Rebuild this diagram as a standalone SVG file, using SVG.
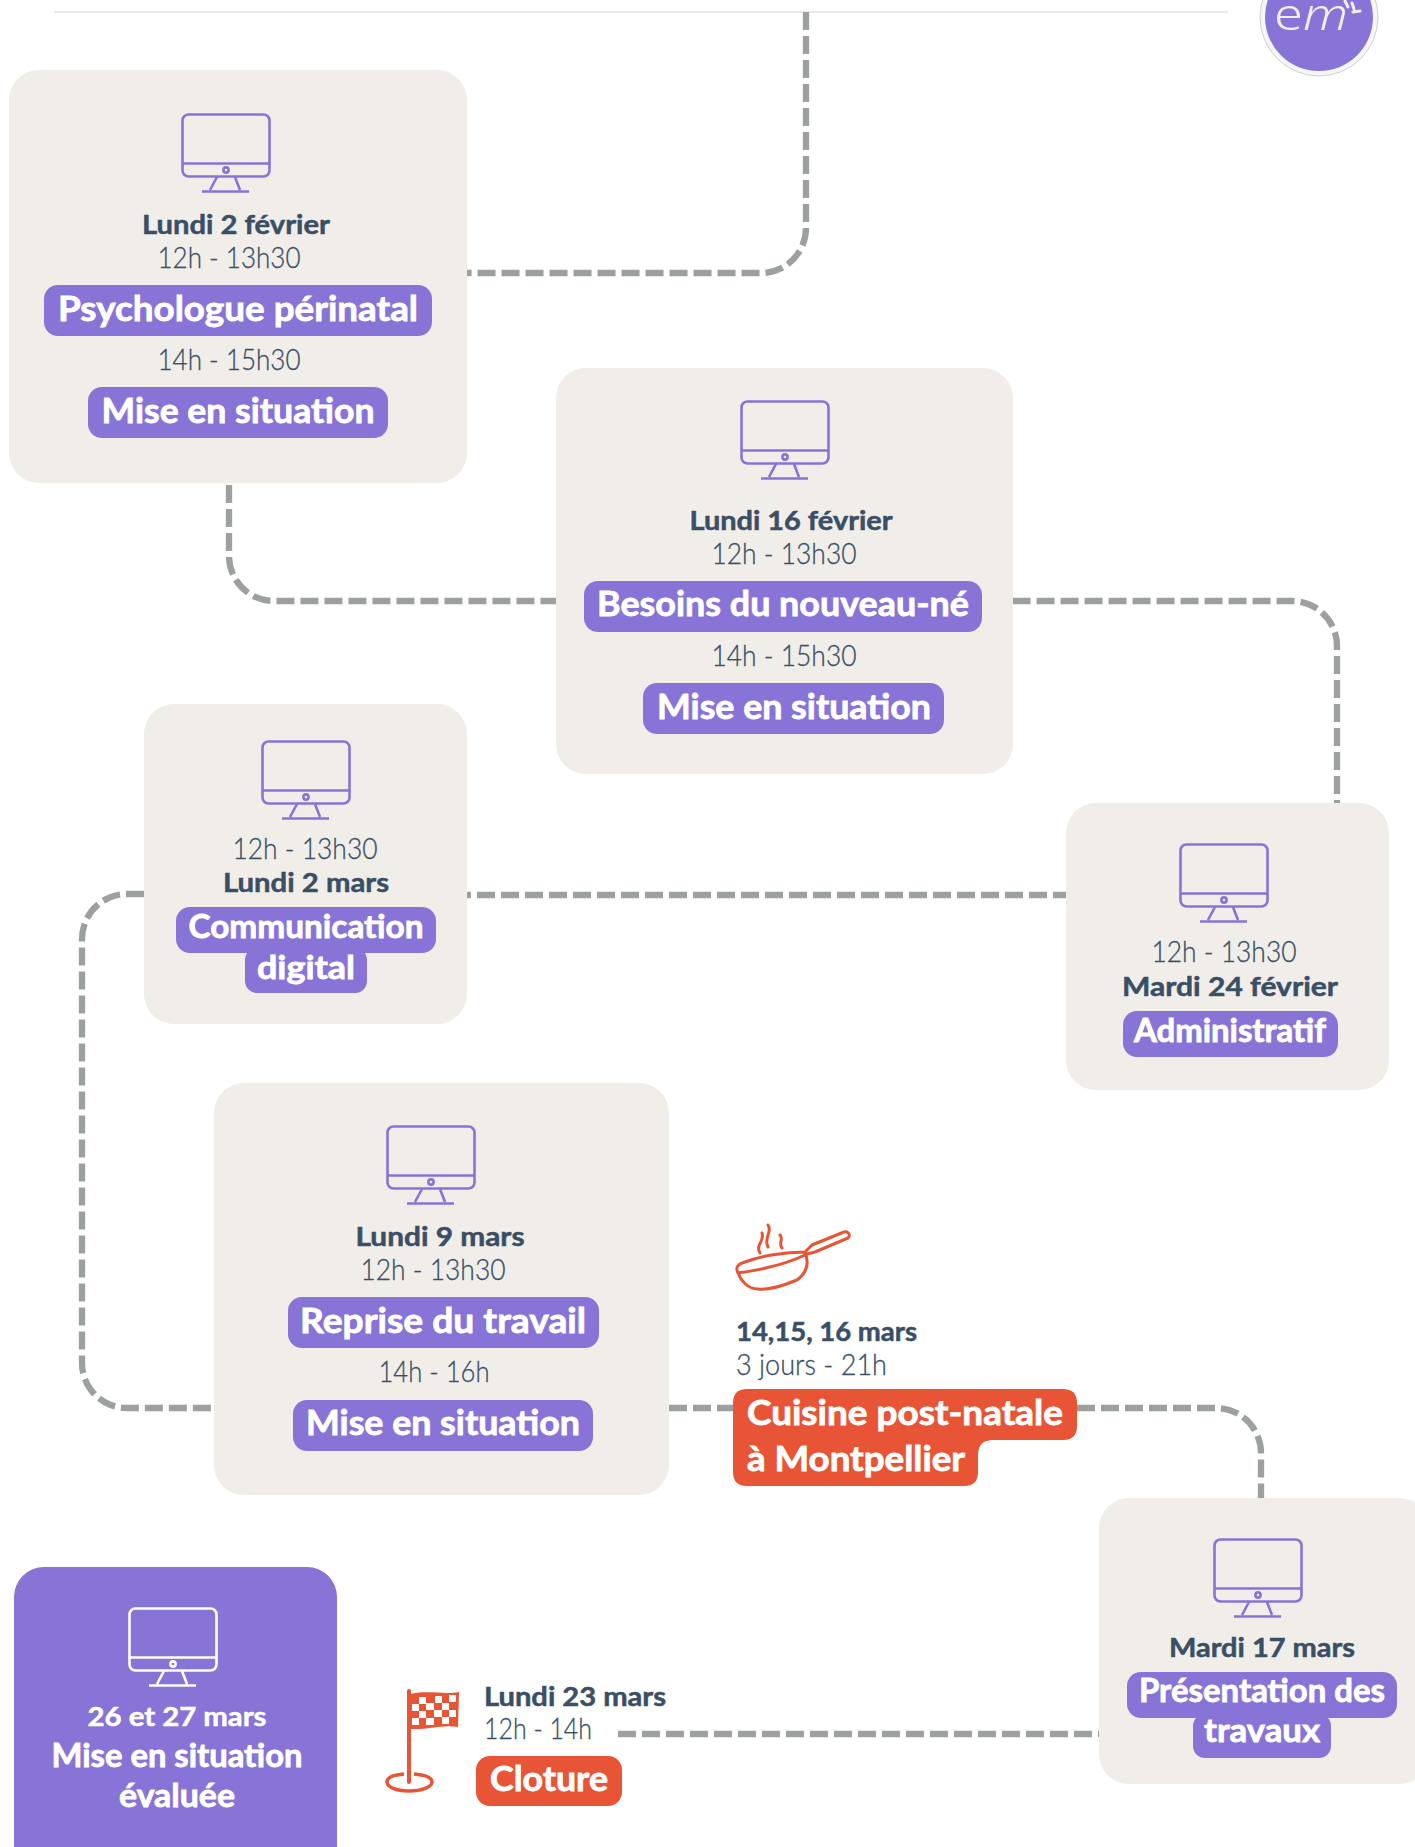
<svg xmlns="http://www.w3.org/2000/svg" width="1415" height="1847" viewBox="0 0 1415 1847">
<style>
text{font-family:"Lato","Liberation Sans",sans-serif}
.card{fill:#f1eeea}
.p{fill:#8873d6}
.r{fill:#e85436}
.d{font-size:26px;font-weight:700;fill:#3a4f66;stroke:#3a4f66;stroke-width:.5;text-anchor:middle}
.t{font-size:29px;font-weight:300;fill:#3a4f66;stroke:#3a4f66;stroke-width:.3;text-anchor:middle}
.l{font-size:35px;font-weight:700;fill:#fff;stroke:#fff;stroke-width:.8;text-anchor:middle}
.s{font-size:32px}
.w{fill:#fff;stroke:#fff}
.st{text-anchor:start}
#conn path{fill:none;stroke:#9ca19d;stroke-width:6.3;stroke-dasharray:18 6}
.ic{fill:none;stroke:#8873d6;stroke-width:2.6}
.icw{fill:none;stroke:#fff;stroke-width:2.6}
.rs{fill:none;stroke:#e85436;stroke-width:3;stroke-linecap:round;stroke-linejoin:round}
</style>
<defs>
<g id="mon">
<rect x="1.5" y="1.5" width="87" height="62" rx="6"/>
<path d="M1.5 50.5H88.5M36 64L29 77M54 64L59 77M21 78.5H68"/>
<circle cx="45" cy="57" r="2.6"/>
</g>
</defs>
<rect x="54" y="11" width="1174" height="2" fill="#e9e9e9"/>
<g id="logo">
<circle cx="1319" cy="17" r="59" fill="#f6f6f8" stroke="#cfcfd8" stroke-width="1"/>
<circle cx="1319" cy="17" r="54" fill="#8873d6"/>
<text x="1274" y="30" style="font-family:'Noto Sans',sans-serif;font-size:44px;font-weight:300;fill:#f1eeea" textLength="74" lengthAdjust="spacingAndGlyphs">e<tspan font-style="italic">m</tspan></text>
<path d="M1345 1L1348 7M1352 3L1354 9M1353 12L1360 11" fill="none" stroke="#f1eeea" stroke-width="3" stroke-linecap="round"/>
</g>
<g id="conn">
<path d="M806 12V228A45 45 0 0 1 761 273H467"/>
<path d="M229 485V556A45 45 0 0 0 274 601H556"/>
<path d="M1337 803V646A45 45 0 0 0 1292 601H1013" style="stroke-dashoffset:15"/>
<path d="M467 895H1066" style="stroke-dashoffset:14"/>
<path d="M144 894H127A45 45 0 0 0 82 939V1363A45 45 0 0 0 127 1408H214"/>
<path d="M669 1408H733"/>
<path d="M1077 1408H1216A45 45 0 0 1 1261 1453V1498"/>
<path d="M618 1734H1099"/>
</g>
<g id="n1">
<rect class="card" x="9" y="70" width="458" height="413" rx="30"/>
<use href="#mon" x="181" y="113" class="ic"/>
<text class="d" x="236" y="234" textLength="188" lengthAdjust="spacingAndGlyphs">Lundi 2 février</text>
<text class="t" x="229" y="268" textLength="143" lengthAdjust="spacingAndGlyphs">12h - 13h30</text>
<rect class="p" x="44" y="285" width="388" height="51" rx="14"/>
<text class="l" x="238" y="321" textLength="360" lengthAdjust="spacingAndGlyphs">Psychologue périnatal</text>
<text class="t" x="229" y="370" textLength="143" lengthAdjust="spacingAndGlyphs">14h - 15h30</text>
<rect class="p" x="88" y="387" width="300" height="51" rx="14"/>
<text class="l" x="238" y="423" textLength="273" lengthAdjust="spacingAndGlyphs">Mise en situation</text>
</g>
<g id="n2">
<rect class="card" x="556" y="368" width="457" height="406" rx="30"/>
<use href="#mon" x="740" y="400" class="ic"/>
<text class="d" x="791" y="530" textLength="203" lengthAdjust="spacingAndGlyphs">Lundi 16 février</text>
<text class="t" x="784" y="564" textLength="145" lengthAdjust="spacingAndGlyphs">12h - 13h30</text>
<rect class="p" x="584" y="581" width="398" height="51" rx="14"/>
<text class="l" x="783" y="616" textLength="372" lengthAdjust="spacingAndGlyphs">Besoins du nouveau-né</text>
<text class="t" x="784" y="666" textLength="145" lengthAdjust="spacingAndGlyphs">14h - 15h30</text>
<rect class="p" x="643" y="683" width="301" height="51" rx="14"/>
<text class="l" x="794" y="719" textLength="274" lengthAdjust="spacingAndGlyphs">Mise en situation</text>
</g>
<g id="n3">
<rect class="card" x="144" y="704" width="323" height="320" rx="30"/>
<use href="#mon" x="261" y="740" class="ic"/>
<text class="t" x="305" y="859" textLength="145" lengthAdjust="spacingAndGlyphs">12h - 13h30</text>
<text class="d" x="306" y="892" textLength="166" lengthAdjust="spacingAndGlyphs">Lundi 2 mars</text>
<rect class="p" x="176" y="907" width="260" height="46" rx="14"/>
<rect class="p" x="245" y="948" width="122" height="45" rx="12"/>
<text class="l s" x="306" y="938" textLength="235" lengthAdjust="spacingAndGlyphs">Communication</text>
<text class="l s" x="306" y="979" textLength="98" lengthAdjust="spacingAndGlyphs">digital</text>
</g>
<g id="n4">
<rect class="card" x="1066" y="803" width="323" height="287" rx="30"/>
<use href="#mon" x="1179" y="843" class="ic"/>
<text class="t" x="1224" y="962" textLength="145" lengthAdjust="spacingAndGlyphs">12h - 13h30</text>
<text class="d" x="1230" y="996" textLength="216" lengthAdjust="spacingAndGlyphs">Mardi 24 février</text>
<rect class="p" x="1123" y="1011" width="215" height="46" rx="14"/>
<text class="l s" x="1230" y="1042" textLength="192" lengthAdjust="spacingAndGlyphs">Administratif</text>
</g>
<g id="n5">
<rect class="card" x="214" y="1083" width="455" height="412" rx="30"/>
<use href="#mon" x="386" y="1125" class="ic"/>
<text class="d" x="440" y="1246" textLength="169" lengthAdjust="spacingAndGlyphs">Lundi 9 mars</text>
<text class="t" x="433" y="1280" textLength="145" lengthAdjust="spacingAndGlyphs">12h - 13h30</text>
<rect class="p" x="288" y="1297" width="311" height="51" rx="14"/>
<text class="l" x="443" y="1333" textLength="286" lengthAdjust="spacingAndGlyphs">Reprise du travail</text>
<text class="t" x="434" y="1382" textLength="111" lengthAdjust="spacingAndGlyphs">14h - 16h</text>
<rect class="p" x="293" y="1400" width="300" height="51" rx="14"/>
<text class="l" x="443" y="1435" textLength="274" lengthAdjust="spacingAndGlyphs">Mise en situation</text>
</g>
<g id="n6">
<path class="rs" d="M738 1273C735 1267 738 1264 745 1262C760 1256 785 1252 805 1252C809 1262 808 1272 797 1280C780 1287 765 1290 758 1289C748 1289 741 1281 738 1273C760 1270 785 1265 807 1254M805 1252L812 1245L844 1232C848 1231 851 1235 848 1238L815 1252L807 1254"/>
<path class="rs" d="M760 1253C755 1245 765 1241 762 1233M768 1247C763 1238 773 1232 768 1225M782 1248C778 1243 784 1240 780 1235"/>
<text class="d st" x="736" y="1341" textLength="181" lengthAdjust="spacingAndGlyphs">14,15, 16 mars</text>
<text class="t st" x="736" y="1375" textLength="151" lengthAdjust="spacingAndGlyphs">3 jours - 21h</text>
<path class="r" d="M747 1389H1063Q1077 1389 1077 1403V1426Q1077 1440 1063 1440H993Q978 1440 978 1455V1472Q978 1486 964 1486H747Q733 1486 733 1472V1403Q733 1389 747 1389Z"/>
<text class="l st" x="747" y="1425" textLength="316" lengthAdjust="spacingAndGlyphs">Cuisine post-natale</text>
<text class="l st" x="747" y="1471" textLength="218" lengthAdjust="spacingAndGlyphs">à Montpellier</text>
</g>
<g id="n7">
<rect class="card" x="1099" y="1498" width="330" height="286" rx="30"/>
<use href="#mon" x="1213" y="1538" class="ic"/>
<text class="d" x="1262" y="1657" textLength="186" lengthAdjust="spacingAndGlyphs">Mardi 17 mars</text>
<rect class="p" x="1127" y="1672" width="270" height="46" rx="14"/>
<rect class="p" x="1193" y="1714" width="138" height="44" rx="12"/>
<text class="l s" x="1262" y="1702" textLength="246" lengthAdjust="spacingAndGlyphs">Présentation des</text>
<text class="l s" x="1262" y="1742" textLength="116" lengthAdjust="spacingAndGlyphs">travaux</text>
</g>
<g id="n8">
<path d="M409 1691V1782" style="fill:none;stroke:#e85436;stroke-width:4;stroke-linecap:round"/>
<path class="r" d="M411 1694C428 1690 445 1695 459 1692L458 1727C442 1724 428 1730 411 1729Z"/>
<g fill="#fff">
<rect x="419" y="1697" width="7" height="7"/><rect x="435" y="1696" width="7" height="7"/><rect x="449" y="1695" width="7" height="7"/>
<rect x="412" y="1704" width="7" height="7"/><rect x="426" y="1703" width="8" height="7"/><rect x="442" y="1703" width="7" height="7"/>
<rect x="419" y="1711" width="7" height="7"/><rect x="434" y="1710" width="8" height="7"/><rect x="449" y="1710" width="7" height="7"/>
<rect x="412" y="1718" width="7" height="7"/><rect x="426" y="1718" width="8" height="7"/><rect x="442" y="1717" width="7" height="7"/>
</g>
<path d="M404 1774C392 1775 387 1778 387 1782C387 1787 396 1791 409 1791C422 1791 432 1787 432 1782C432 1778 426 1775 414 1774" fill="none" stroke="#e85436" stroke-width="3.5"/>
<text class="d st" x="484" y="1706" textLength="182" lengthAdjust="spacingAndGlyphs">Lundi 23 mars</text>
<text class="t st" x="484" y="1739" textLength="108" lengthAdjust="spacingAndGlyphs">12h - 14h</text>
<rect class="r" x="476" y="1756" width="146" height="50" rx="14"/>
<text class="l st" x="490" y="1791" textLength="118" lengthAdjust="spacingAndGlyphs">Cloture</text>
</g>
<g id="n9">
<rect class="p" x="14" y="1567" width="323" height="310" rx="30"/>
<use href="#mon" x="128" y="1607" class="icw"/>
<text class="d w" x="177" y="1726" textLength="179" lengthAdjust="spacingAndGlyphs">26 et 27 mars</text>
<text class="l s" x="177" y="1767" textLength="251" lengthAdjust="spacingAndGlyphs">Mise en situation</text>
<text class="l s" x="177" y="1807" textLength="116" lengthAdjust="spacingAndGlyphs">évaluée</text>
</g>
</svg>
